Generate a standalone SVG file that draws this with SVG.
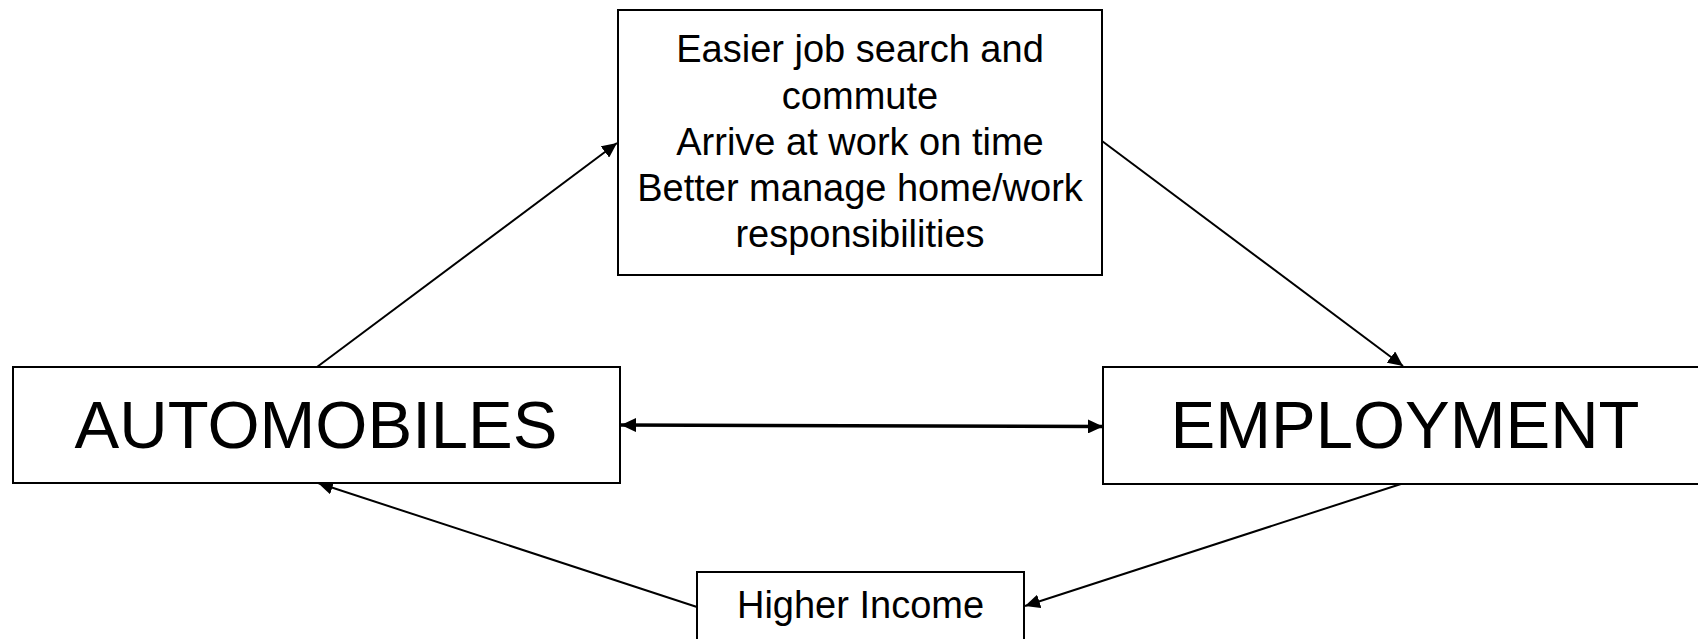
<svg xmlns="http://www.w3.org/2000/svg" width="1698" height="639" viewBox="0 0 1698 639">
<style>
.box{fill:#fff;stroke:#000;stroke-width:2}
.t{font-family:"Liberation Sans",Arial,sans-serif;fill:#000;text-anchor:middle}
.ln{fill:none;stroke:#000;stroke-width:2}
.thick{fill:none;stroke:#000;stroke-width:3.5}
</style>
<defs>
<marker id="ah" markerUnits="userSpaceOnUse" markerWidth="16" markerHeight="14" refX="15" refY="7" orient="auto">
<path d="M0,0 L15,7 L0,14 Z" fill="#000"/>
</marker>
<marker id="ahs" markerUnits="userSpaceOnUse" markerWidth="16" markerHeight="14" refX="15" refY="7" orient="auto-start-reverse">
<path d="M0,0 L15,7 L0,14 Z" fill="#000"/>
</marker>
</defs>
<rect width="1698" height="639" fill="#fff"/>
<g id="connectors">
<line class="ln" x1="317" y1="367" x2="617" y2="143" marker-end="url(#ah)"/>
<line class="ln" x1="1102" y1="141" x2="1403" y2="366" marker-end="url(#ah)"/>
<line class="ln" x1="1404" y1="483" x2="1025" y2="606" marker-end="url(#ah)"/>
<line class="ln" x1="697" y1="607" x2="318" y2="483" marker-end="url(#ah)"/>
<line class="thick" x1="621" y1="425" x2="1103" y2="426.5" marker-start="url(#ahs)" marker-end="url(#ah)"/>
</g>
<g id="node-benefits">
<rect class="box" x="618" y="10" width="484" height="265"/>
<text class="t" font-size="38" x="860" y="62">Easier job search and</text>
<text class="t" font-size="38" x="860" y="108.5">commute</text>
<text class="t" font-size="38" x="860" y="155">Arrive at work on time</text>
<text class="t" font-size="38" x="860" y="201">Better manage home/work</text>
<text class="t" font-size="38" x="860" y="247">responsibilities</text>
</g>
<g id="node-automobiles">
<rect class="box" x="13" y="367" width="607" height="116"/>
<text class="t" font-size="67" x="316" y="448">AUTOMOBILES</text>
</g>
<g id="node-employment">
<rect class="box" x="1103" y="367" width="607" height="117"/>
<text class="t" font-size="67" x="1405" y="448">EMPLOYMENT</text>
</g>
<g id="node-income">
<rect class="box" x="697" y="572" width="327" height="90"/>
<text class="t" font-size="38" x="860.5" y="618">Higher Income</text>
</g>
</svg>
